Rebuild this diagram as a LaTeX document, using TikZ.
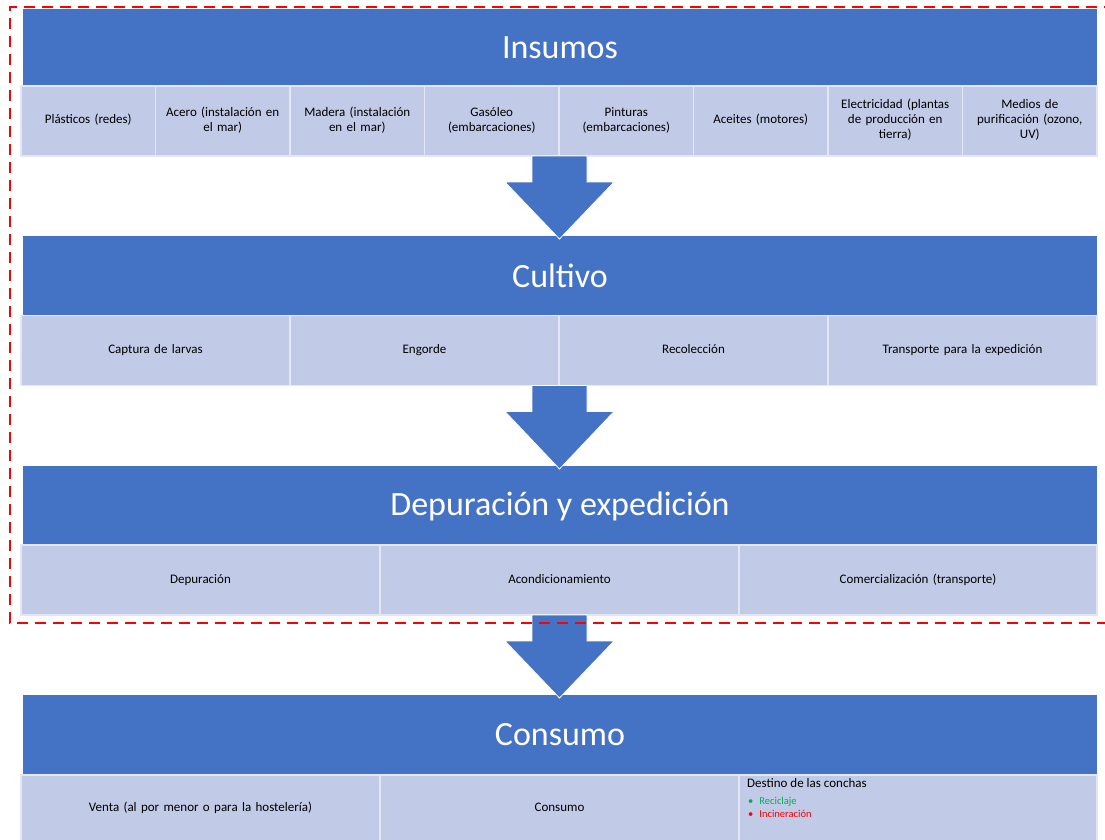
\documentclass[tikz,border=0pt]{standalone}
\usepackage{fontspec}
\setmainfont{Carlito}
\usetikzlibrary{calc}
\definecolor{barblue}{HTML}{4472C4}
\definecolor{subfill}{HTML}{C1CAE6}
\definecolor{recgreen}{HTML}{00B050}
\tikzset{
  hdr/.style={fill=barblue, draw=none, text=white, font=\fontsize{34}{40}\selectfont,
    minimum width=1074pt, minimum height=76pt, inner sep=0pt, outer sep=0pt},
  subbox/.style={fill=subfill, draw=white!55!subfill, line width=1.5pt, font=\fontsize{13}{15}\selectfont,
    align=center, inner sep=2pt, outer sep=0pt, text width=#1-6pt, minimum width=#1, minimum height=70pt,
    execute at begin node=\strut, execute at end node=\strut},
  subbox/.default=134.5pt,
  blockarrow/.style={fill=barblue, draw=white, line width=0.8pt},
  redbox/.style={draw=red, line width=2.2pt, dash pattern=on 11pt off 7pt}
}
\newcommand{\myarrow}[2]{% top node, bottom node
  \path let \p1=(#1.south), \p2=(#2.north) in
    coordinate (t) at (559.5,\y1) coordinate (b) at (559.5,\y2);
  \draw[blockarrow] let \p1=(t), \p2=(b) in
    (532,\y1) -- (587,\y1) -- (587,\y1-26pt) -- (614,\y1-26pt) -- (559.5,\y2-3pt)
    -- (505,\y1-26pt) -- (532,\y1-26pt) -- cycle;
}
\begin{document}
\begin{tikzpicture}[x=1pt,y=-1pt]
\useasboundingbox (0,0) rectangle (1105,840);
\fill[white] (0,0) rectangle (1105,840);

% ---------- Insumos ----------
\node[hdr] (insumos) at (560,47.5) {Insumos};
\node[subbox] (i1) at (88.25,121) {Plásticos (redes)};
\node[subbox] (i2) at (222.75,121) {Acero (instalación en\\el mar)};
\node[subbox] (i3) at (357.25,121) {Madera (instalación\\en el mar)};
\node[subbox] (i4) at (491.75,121) {Gasóleo\\(embarcaciones)};
\node[subbox] (i5) at (626.25,121) {Pinturas\\(embarcaciones)};
\node[subbox] (i6) at (760.75,121) {Aceites (motores)};
\node[subbox] (i7) at (895.25,121) {Electricidad (plantas\\de producción en\\tierra)};
\node[subbox] (i8) at (1029.75,121) {Medios de\\purificación (ozono,\\UV)};

% ---------- Cultivo ----------
\node[hdr, minimum height=80pt] (cultivo) at (560,276) {Cultivo};
\node[subbox=269pt] (c1) at (155.5,350.5) {Captura de larvas};
\node[subbox=269pt] (c2) at (424.5,350.5) {Engorde};
\node[subbox=269pt] (c3) at (693.5,350.5) {Recolección};
\node[subbox=269pt] (c4) at (962.5,350.5) {Transporte para la expedición};

% ---------- Depuración ----------
\node[hdr, minimum height=80pt] (depur) at (560,506) {Depuración y expedición};
\node[subbox=359pt] (d1) at (200.5,580) {Depuración};
\node[subbox=359pt] (d2) at (559.5,580) {Acondicionamiento};
\node[subbox=358pt] (d3) at (918,580) {Comercialización (transporte)};

% ---------- Consumo ----------
\node[hdr, minimum height=80pt] (consumo) at (560,735) {Consumo};
\node[subbox=359pt, minimum height=66pt] (k1) at (200.5,808) {Venta (al por menor o para la hostelería)};
\node[subbox=359pt, minimum height=66pt] (k2) at (559.5,808) {Consumo};
\node[subbox=358pt, minimum height=66pt, execute at begin node={}, execute at end node={}] (k3) at (918,808) {};
\node[anchor=north west, inner sep=0pt, font=\fontsize{13}{15}\selectfont] (k3t) at ([xshift=8pt,yshift=-3pt]k3.north west) {Destino de las conchas};
\node[anchor=north west, inner sep=0pt, font=\fontsize{10.5}{12}\selectfont, text=recgreen] (k3a) at ([xshift=1pt,yshift=-9pt]k3t.south west) {\textbullet\hspace{6pt}Reciclaje};
\node[anchor=north west, inner sep=0pt, font=\fontsize{10.5}{12}\selectfont, text=red] (k3b) at ([yshift=-4pt]k3a.south west) {\textbullet\hspace{6pt}Incineración};

% ---------- arrows ----------
\myarrow{i4}{cultivo}
\myarrow{c2}{depur}
\myarrow{d2}{consumo}

% ---------- red dashed boundary ----------
\draw[redbox] (1115,7) -- (10,7) -- (10,623) -- (1115,623);
\end{tikzpicture}
\end{document}
